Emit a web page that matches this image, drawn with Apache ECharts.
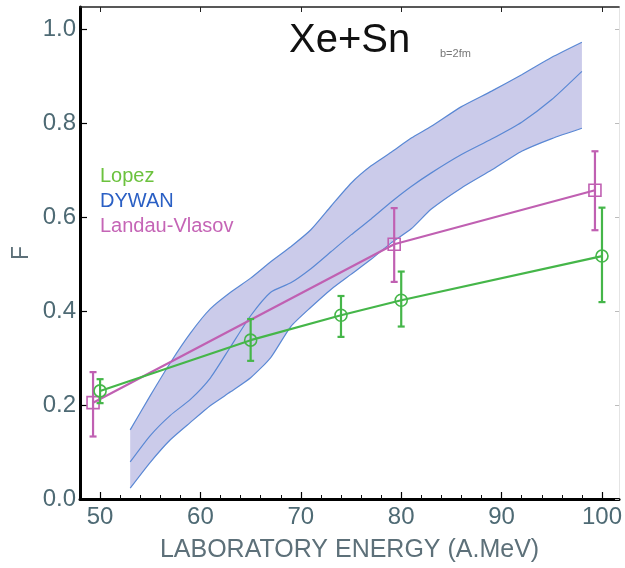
<!DOCTYPE html>
<html><head><meta charset="utf-8">
<script src="https://cdn.jsdelivr.net/npm/echarts@6/dist/echarts.min.js"></script>
<style>html,body{margin:0;padding:0;background:#fff}#c{width:625px;height:568px}</style>
</head><body><div id="c"></div>
<script>
// tick labels
const xTicks = [50, 60, 70, 80, 90, 100];
const xMinorTicks = [52, 54, 56, 58, 62, 64, 66, 68, 72, 74, 76, 78, 82, 84, 86, 88, 92, 94, 96, 98];
const yTicks = [0, 0.2, 0.4, 0.6, 0.8, 1.0];

// Lopez (experiment)
const lopezX = [50, 65, 74, 80, 100];
const lopezY = [0.230, 0.338, 0.391, 0.423, 0.517];
const lopezLo = [0.204, 0.294, 0.345, 0.367, 0.419];
const lopezHi = [0.255, 0.383, 0.432, 0.484, 0.620];

// Landau-Vlasov
const lvX = [49.3, 79.3, 99.3];
const lvY = [0.205, 0.542, 0.657];
const lvLo = [0.133, 0.462, 0.572];
const lvHi = [0.270, 0.619, 0.740];

// DYWAN band
const bandX = [53, 55, 57, 59, 61, 63, 65, 67, 69, 71, 73, 75, 77, 79, 81, 83, 86, 89, 92, 95, 98];
const bandUpper = [0.147, 0.220, 0.290, 0.353, 0.405, 0.440, 0.470, 0.505, 0.537, 0.573, 0.623, 0.672, 0.709, 0.738, 0.768, 0.793, 0.835, 0.868, 0.903, 0.940, 0.972];
const bandMid = [0.079, 0.135, 0.178, 0.212, 0.258, 0.324, 0.390, 0.440, 0.460, 0.490, 0.526, 0.562, 0.596, 0.632, 0.665, 0.694, 0.733, 0.766, 0.802, 0.850, 0.910];
const bandLower = [0.023, 0.078, 0.126, 0.163, 0.199, 0.228, 0.258, 0.301, 0.367, 0.408, 0.446, 0.478, 0.510, 0.545, 0.575, 0.617, 0.662, 0.700, 0.740, 0.767, 0.789];

const FONT = '"Liberation Sans", Arial, sans-serif';
const GREEN = '#45b649';
const MAGENTA = '#c060b2';
const BLUE = '#5a88d4';
const LABEL = '#4e6a74';

const zip = (a, b) => a.map((v, i) => [v, b[i]]);
const zip3 = (a, b, c) => a.map((v, i) => [v, b[i], c[i]]);

function errRender(color) {
  return function (params, api) {
    const x = api.value(0), lo = api.value(1), hi = api.value(2);
    const p1 = api.coord([x, hi]), p2 = api.coord([x, lo]);
    const w = 3.5;
    const style = { stroke: color, lineWidth: 2.2 };
    return { type: 'group', children: [
      { type: 'line', shape: { x1: p1[0], y1: p1[1], x2: p2[0], y2: p2[1] }, style },
      { type: 'line', shape: { x1: p1[0] - w, y1: p1[1], x2: p1[0] + w, y2: p1[1] }, style },
      { type: 'line', shape: { x1: p2[0] - w, y1: p2[1], x2: p2[0] + w, y2: p2[1] }, style }
    ]};
  };
}

function bandRender(params, api) {
  if (params.dataIndex !== 0) return;
  const up = bandX.map((x, i) => api.coord([x, bandUpper[i]]));
  const lo = bandX.map((x, i) => api.coord([x, bandLower[i]]));
  return { type: 'polygon', shape: { points: up.concat(lo.slice().reverse()) },
    style: { fill: '#cbcbea', stroke: null } };
}

const chart = echarts.init(document.getElementById('c'), null, { renderer: 'canvas' });
chart.setOption({
  animation: false,
  backgroundColor: '#fff',
  textStyle: { fontFamily: FONT },
  title: [
    { text: 'Xe+Sn', left: 289, top: 21, padding: 0,
      textStyle: { fontSize: 40, fontWeight: 'normal', color: '#111', fontFamily: FONT } },
    { text: 'b=2fm', left: 440, top: 48, padding: 0,
      textStyle: { fontSize: 11, fontWeight: 'normal', color: '#777', fontFamily: FONT } }
  ],
  legend: {
    orient: 'vertical', left: 94, top: 166, padding: 0, itemGap: 5,
    itemWidth: 0, itemHeight: 0, selectedMode: false,
    textStyle: { fontSize: 20, fontFamily: FONT },
    data: [
      { name: 'Lopez', textStyle: { color: '#6cc23e' } },
      { name: 'DYWAN', textStyle: { color: '#2a5fc4' } },
      { name: 'Landau-Vlasov', textStyle: { color: '#c565b6' } }
    ]
  },
  grid: { left: 80, top: 7, width: 542, height: 492 },
  xAxis: [
    { type: 'value', position: 'bottom', min: 48, max: 101.7,
      name: 'LABORATORY ENERGY (A.MeV)', nameLocation: 'middle', nameGap: 39,
      nameTextStyle: { fontSize: 25, color: '#5d7079', fontFamily: FONT },
      axisLine: { show: true, onZero: false, lineStyle: { color: '#000', width: 3, opacity: 1 } },
      axisTick: { show: true, inside: true, length: 7, customValues: xTicks, lineStyle: { color: '#000', width: 1.2 } },
      axisLabel: { show: true, customValues: xTicks, fontSize: 24, color: LABEL, margin: 6, fontFamily: FONT },
      splitLine: { show: false } },
    { type: 'value', position: 'bottom', min: 48, max: 101.7,
      axisLine: { show: false, onZero: false },
      axisTick: { show: true, inside: true, length: 4, customValues: xMinorTicks, lineStyle: { color: '#111', width: 1 } },
      axisLabel: { show: false }, splitLine: { show: false } },
    { type: 'value', position: 'top', min: 48, max: 101.7,
      axisLine: { show: true, onZero: false, lineStyle: { color: '#222', width: 1.6 } },
      axisTick: { show: true, inside: true, length: 5, customValues: xTicks, lineStyle: { color: '#222', width: 1 } },
      axisLabel: { show: false }, splitLine: { show: false } }
  ],
  yAxis: [
    { type: 'value', position: 'left', min: 0, max: 1.047,
      name: 'F', nameLocation: 'middle', nameGap: 47, nameRotate: 90, nameMoveOverlap: false,
      nameTextStyle: { fontSize: 23, color: '#5d7079', fontFamily: FONT },
      axisLine: { show: true, onZero: false, lineStyle: { color: '#000', width: 3, opacity: 1 } },
      axisTick: { show: true, inside: true, length: 7, customValues: yTicks, lineStyle: { color: '#000', width: 1.2 } },
      axisLabel: { show: true, customValues: yTicks, fontSize: 24, color: LABEL, margin: 4, fontFamily: FONT,
        formatter: v => v.toFixed(1) },
      splitLine: { show: false } },
    { type: 'value', position: 'right', min: 0, max: 1.047,
      axisLine: { show: true, onZero: false, lineStyle: { color: '#e4e4e4', width: 1 } },
      axisTick: { show: true, inside: true, length: 4, customValues: yTicks, lineStyle: { color: '#bbb', width: 1 } },
      axisLabel: { show: false }, splitLine: { show: false } }
  ],
  series: [
    { name: 'bandArea', type: 'custom', data: zip3(bandX, bandLower, bandUpper), encode: { x: 0, y: [1, 2] },
      renderItem: bandRender, z: 1, silent: true },
    { name: 'bandLower', type: 'line', data: zip(bandX, bandLower),
      symbol: 'none', smooth: 0.2, lineStyle: { color: BLUE, width: 1.2 }, z: 2 },
    { name: 'bandUpper', type: 'line', data: zip(bandX, bandUpper),
      symbol: 'none', smooth: 0.2, lineStyle: { color: BLUE, width: 1.2 }, z: 2 },
    { name: 'DYWAN', type: 'line', data: zip(bandX, bandMid), symbol: 'none', smooth: 0.2,
      color: '#2a5fc4', lineStyle: { color: BLUE, width: 1.2 }, z: 2 },
    { name: 'Landau-Vlasov', type: 'line', data: zip(lvX, lvY), symbol: 'rect', symbolSize: 12,
      color: MAGENTA, lineStyle: { color: MAGENTA, width: 2.2 },
      itemStyle: { color: 'rgba(0,0,0,0)', borderColor: MAGENTA, borderWidth: 1.6 }, z: 3 },
    { name: 'lvErr', type: 'custom', data: zip3(lvX, lvLo, lvHi), encode: { x: 0, y: [1, 2] },
      renderItem: errRender(MAGENTA), z: 3 },
    { name: 'Lopez', type: 'line', data: zip(lopezX, lopezY), symbol: 'circle', symbolSize: 12,
      color: GREEN, lineStyle: { color: GREEN, width: 2.2 },
      itemStyle: { color: 'rgba(0,0,0,0)', borderColor: GREEN, borderWidth: 1.6 }, z: 4 },
    { name: 'lopezErr', type: 'custom', data: zip3(lopezX, lopezLo, lopezHi), encode: { x: 0, y: [1, 2] },
      renderItem: errRender(GREEN), z: 4 }
  ]
});
</script>
</body></html>
